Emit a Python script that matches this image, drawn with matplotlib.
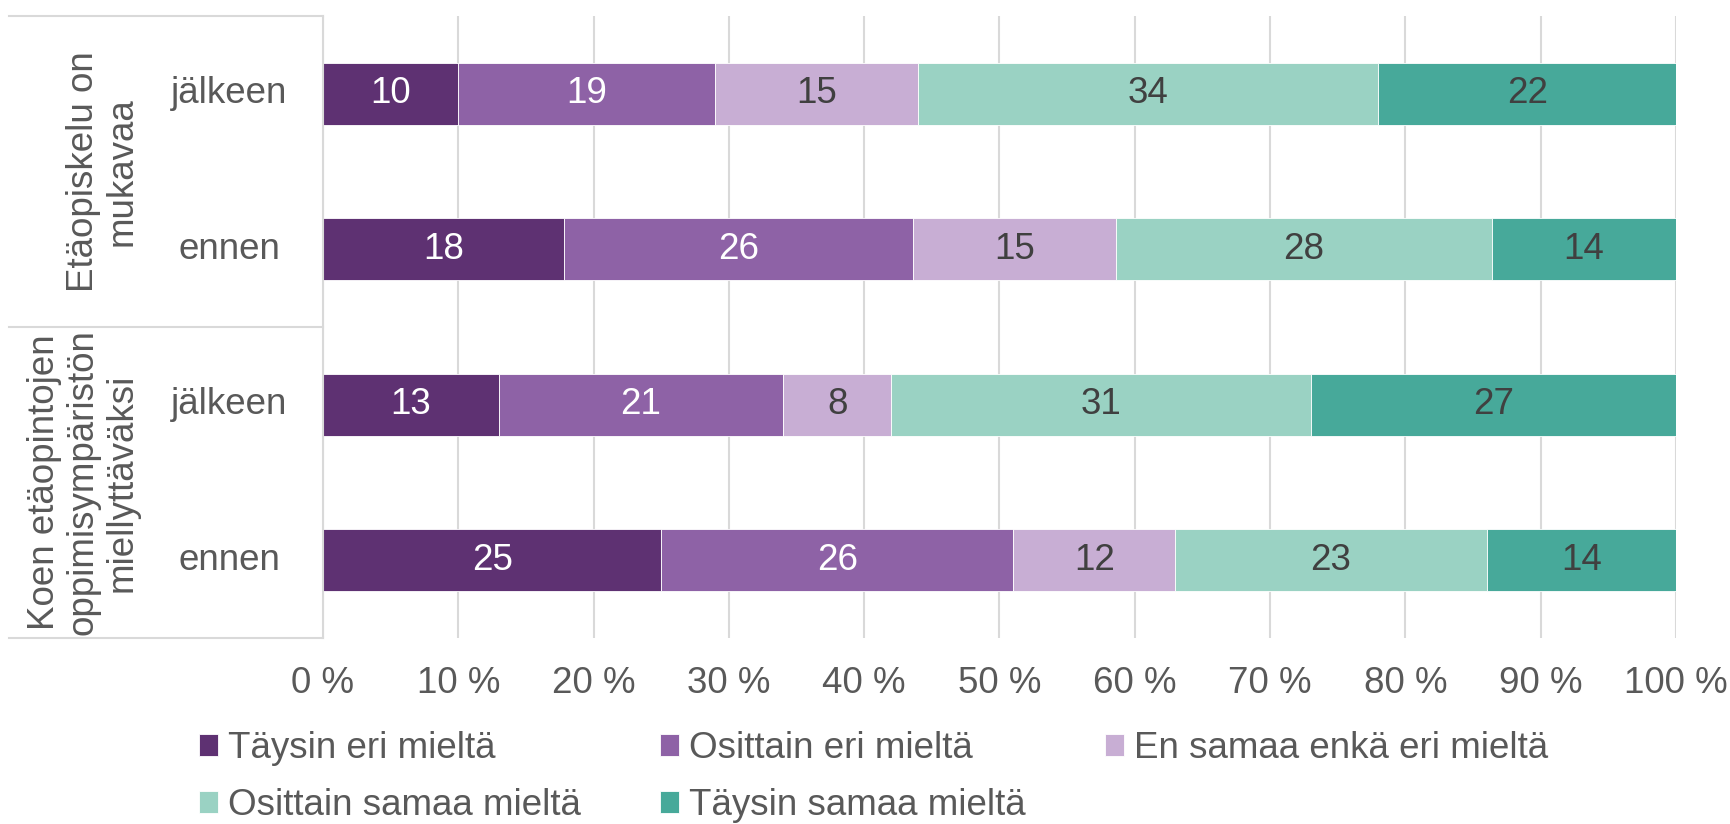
import numpy as np
import matplotlib
matplotlib.use("Agg")
import matplotlib.pyplot as plt

# Data (percent shares)
groups = ["Etäopiskelu on\nmukavaa", "Koen etäopintojen\noppimisympäristön\nmiellyttäväksi"]
times = ["jälkeen", "ennen", "jälkeen", "ennen"]
series = ["Täysin eri mieltä", "Osittain eri mieltä", "En samaa enkä eri mieltä",
          "Osittain samaa mieltä", "Täysin samaa mieltä"]
taysin_eri = [10, 17.8, 13, 25]
osittain_eri = [19, 25.8, 21, 26]
ei_kumpikaan = [15, 15.0, 8, 12]
osittain_samaa = [34, 27.8, 31, 23]
taysin_samaa = [22, 13.6, 27, 14]
xtick_labels = ["0 %", "10 %", "20 %", "30 %", "40 %", "50 %", "60 %", "70 %", "80 %", "90 %", "100 %"]

colors = ["#5E3172", "#8E62A6", "#C8AED4", "#9AD2C3", "#47A99A"]
label_colors = ["white", "white", "#404040", "#404040", "#404040"]
text_col = "#595959"
grid_col = "#D9D9D9"
fs = 26.5

plt.rcParams['font.family'] = ['Liberation Sans', 'DejaVu Sans']

W, H = 1731, 824
fig = plt.figure(figsize=(W / 100, H / 100), dpi=100)
left, right, top, bottom = 323, 1676, 16, 638
ax = fig.add_axes([left / W, 1 - bottom / H, (right - left) / W, (bottom - top) / H])

values = [taysin_eri, osittain_eri, ei_kumpikaan, osittain_samaa, taysin_samaa]
y = np.arange(len(times))[::-1]  # top row first
base = np.zeros(len(times))
handles = []
for vals, name, col, lcol in zip(values, series, colors, label_colors):
    v = np.array(vals) / 100.0
    bars = ax.barh(y, v, left=base, height=0.4, color=col, label=name,
                   edgecolor="white", linewidth=0.6, zorder=2)
    ax.bar_label(bars, labels=[f"{x:.0f}" for x in vals], label_type="center",
                 color=lcol, fontsize=fs)
    handles.append(bars)
    base += v

ax.set_xlim(0, 1)
ax.set_ylim(-0.5, 3.5)
ax.set_xticks(np.linspace(0, 1, 11))
ax.set_xticklabels(xtick_labels)
ax.tick_params(axis="x", length=0, pad=20, labelsize=fs, labelcolor=text_col)
ax.set_yticks([])
ax.grid(axis="x", color=grid_col, linewidth=1.5, zorder=0)
ax.set_axisbelow(True)
for s in ["top", "right", "bottom"]:
    ax.spines[s].set_visible(False)
ax.spines["left"].set_color(grid_col)
ax.spines["left"].set_linewidth(1.5)

# two-level category axis
tr = ax.get_yaxis_transform()
ax_w = right - left
for yy, t in zip(y, times):
    ax.text((229 - left) / ax_w, yy, t, transform=tr, ha="center", va="center",
            fontsize=fs, color=text_col)
for i, g in enumerate(groups):
    yc = 2.5 - 2 * i
    ax.text((140 - left) / ax_w, yc, g, transform=tr, rotation=90, ha="right",
            va="center", multialignment="center", fontsize=fs, color=text_col,
            linespacing=1.15)
for yy in [3.5, 1.5, -0.5]:
    ax.plot([(9 - left) / ax_w, 0], [yy, yy], transform=tr, color=grid_col,
            linewidth=1.5, clip_on=False)

# legend filled row by row (matplotlib fills columns first)
order = [0, 3, 1, 4, 2]
fig.legend([handles[i] for i in order], [series[i] for i in order],
           loc="upper left", bbox_to_anchor=(199 / W, 1 - 731 / H), ncol=3,
           frameon=False, fontsize=fs, labelcolor=text_col, handlelength=0.52,
           handleheight=0.52, handletextpad=0.27, columnspacing=2.15,
           labelspacing=0.6, borderpad=0, borderaxespad=0)

fig.savefig("out.png", dpi=100)
